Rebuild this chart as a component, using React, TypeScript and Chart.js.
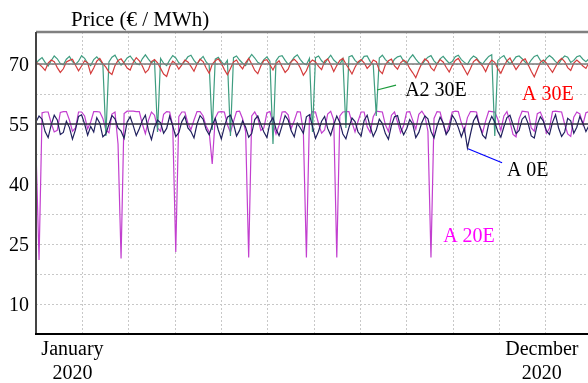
import React, { useEffect, useRef } from 'react';
import { Chart, registerables } from 'chart.js';

Chart.register(...registerables);

// ---------- data ----------
const DAY_STEP = 2; // one point every two days

const A30E = [
  70.4, 70.0, 69.3, 68.4, 70.2, 71.0, 70.6, 69.1, 67.9, 68.8, 70.5, 70.9, 71.2, 69.7, 68.3, 69.5, 70.8, 70.3, 67.6, 69.0,
  70.7, 71.4, 70.1, 69.2, 68.0, 67.4, 69.6, 70.9, 71.3, 70.2, 69.0, 68.5, 70.4, 71.6, 70.8, 69.5, 67.8, 68.6, 70.6, 71.1,
  70.3, 68.9, 67.5, 66.9, 69.3, 70.7, 70.1, 68.7, 69.8, 71.0, 70.5, 69.4, 68.2, 70.0, 71.2, 70.6, 69.0, 67.7, 69.9, 70.8,
  71.3, 70.2, 68.6, 67.3, 68.9, 70.5, 71.0, 69.7, 68.8, 70.3, 71.4, 70.0, 68.4, 67.6, 69.5, 70.9, 71.1, 69.8, 68.5, 70.1,
  70.8, 69.3, 67.9, 68.7, 70.6, 71.2, 70.4, 69.0, 67.2, 68.3, 70.2, 71.0, 70.5, 69.4, 68.6, 70.7, 71.3, 69.9, 68.1, 69.6,
  70.9, 71.4, 70.0, 68.8, 67.5, 69.2, 70.5, 71.1, 70.3, 68.9, 69.7, 71.0, 70.6, 68.4, 67.6, 69.8, 70.8, 71.2, 69.5, 68.7,
  70.3, 71.0, 70.4, 68.9, 67.8, 66.6, 68.5, 70.2, 71.3, 70.7, 69.1, 68.3, 70.0, 71.1, 70.5, 69.2, 68.0, 69.6, 70.9, 71.4,
  70.1, 68.7, 67.3, 68.9, 70.6, 71.2, 70.3, 69.5, 68.1, 69.9, 71.0, 70.4, 68.8, 67.7, 69.4, 70.8, 71.5, 70.0, 68.6, 69.7,
  70.9, 71.3, 69.8, 68.2, 66.8, 68.6, 70.4, 71.0, 70.2, 69.0, 67.9, 69.3, 70.7, 71.4, 70.6, 69.1, 68.4, 70.2, 71.0, 70.3,
  69.5, 68.9, 70.4, 70.8,
];

const A2_30E = [
  70.2, 71.0, 71.6, 70.4, 69.5, 70.8, 72.0, 71.3, 70.1, 69.8, 71.2, 71.9, 70.6, 69.9, 70.7, 72.1, 71.4, 70.2, 69.6, 71.1,
  71.8, 70.9, 70.0, 52.0, 70.5, 71.7, 72.2, 70.8, 69.7, 70.4, 71.5, 72.0, 71.0, 70.1, 69.8, 71.3, 72.3, 71.2, 70.3, 70.9,
  53.0, 71.4, 70.2, 69.6, 71.0, 72.1, 71.5, 70.3, 69.9, 70.7, 71.8, 72.2, 70.9, 70.0, 71.1, 71.9, 70.5, 69.7, 53.5, 71.2,
  71.7, 70.6, 69.8, 70.9, 52.0, 71.6, 72.0, 71.0, 70.2, 69.6, 71.3, 72.4, 71.5, 70.4, 70.0, 71.1, 71.8, 70.7, 50.0, 70.8,
  71.9, 72.1, 70.9, 69.9, 70.6, 71.7, 72.3, 71.1, 70.2, 69.8, 71.4, 53.0, 71.6, 72.0, 70.8, 70.1, 71.2, 72.2, 71.0, 70.3,
  69.9, 71.3, 54.0, 71.8, 72.1, 70.9, 70.2, 70.8, 71.9, 72.0, 70.6, 69.8, 57.0, 71.5, 72.2, 71.1, 70.4, 69.9, 71.2, 71.8,
  72.0, 70.7, 70.1, 71.4, 72.3, 71.2, 70.3, 69.8, 70.9, 71.7, 72.1, 70.8, 70.0, 71.3, 71.9, 71.0, 70.2, 70.6, 71.8, 72.2,
  71.1, 70.4, 69.9, 71.2, 72.0, 71.5, 70.5, 70.0, 71.0, 71.9, 72.3, 52.0, 70.9, 71.6, 72.1, 70.8, 70.1, 70.7, 71.8, 72.0,
  71.3, 70.5, 69.8, 71.0, 71.9, 72.2, 70.9, 70.3, 71.4, 72.1, 71.5, 70.6, 70.0, 71.2, 72.0, 71.7, 70.4, 70.9, 71.8, 72.1,
  71.2, 70.6, 71.3, 71.9,
];

const A0E = [
  55.5, 57.0, 56.2, 53.1, 51.6, 54.8, 57.2, 56.0, 52.4, 52.9, 55.7, 54.1, 51.2, 53.6, 56.9, 57.3, 55.0, 52.2, 54.4, 53.0,
  56.6, 55.2, 51.8, 52.5, 54.9, 57.1, 56.3, 54.0, 53.2, 51.4, 55.5, 56.8, 54.6, 52.1, 53.8, 55.9, 57.2, 53.4, 51.1, 54.2,
  56.0, 55.3, 52.7, 53.9, 57.0, 54.5, 51.9, 52.8, 55.6, 56.9, 54.0, 53.1, 51.5, 55.0, 57.1, 56.2, 53.6, 52.3, 54.7, 56.4,
  53.5, 51.3, 54.3, 56.7, 57.2, 55.1, 52.0, 53.4, 55.8, 54.2, 51.7, 52.6, 56.1, 57.0, 54.9, 53.0, 51.6, 55.3, 56.6, 53.7,
  52.1, 54.6, 57.1, 56.0, 53.3, 51.8, 55.2, 54.0, 52.7, 56.8, 57.3, 54.4, 51.4, 53.2, 55.7, 56.9, 53.9, 52.2, 54.8, 57.0,
  55.4, 52.5, 51.3, 54.1, 56.5, 55.6, 53.0, 52.0, 55.9, 57.2, 54.3, 51.9, 53.5, 56.2, 55.1, 52.6, 51.2, 54.7, 56.8, 57.1,
  54.2, 52.3, 53.8, 56.1, 55.0, 51.6, 52.9, 55.4, 57.0, 56.3, 53.2, 51.5, 54.5, 56.7, 55.3, 52.4, 53.6, 57.2, 56.0, 54.1,
  51.8, 53.9, 49.0, 52.5, 55.8, 57.1, 54.6, 52.2, 51.4, 55.0, 56.9, 55.5, 53.1, 51.7, 54.3, 56.6, 57.2, 54.8, 52.6, 53.4,
  56.2, 57.0, 55.1, 52.0, 51.5, 54.9, 56.8, 55.7, 53.3, 52.4, 55.4, 57.3, 54.0, 51.9, 53.0, 56.4, 55.8, 52.7, 54.2, 56.9,
  55.2, 53.1, 54.6, 56.3,
];

const A20E = [
  48.5, 21.0, 57.8, 58.0, 58.0, 55.2, 53.0, 53.4, 57.9, 58.1, 58.1, 56.0, 53.2, 54.0, 58.0, 58.0, 57.0, 53.8, 55.5, 58.1,
  58.1, 58.0, 56.4, 53.5, 52.8, 57.5, 58.0, 50.0, 21.4, 57.6, 58.2, 58.2, 58.2, 58.1, 58.1, 55.0, 52.6, 55.9, 58.0, 57.2,
  54.0, 53.2, 57.4, 58.1, 58.0, 54.6, 23.0, 56.8, 58.0, 58.0, 55.2, 53.6, 56.0, 58.1, 58.1, 57.0, 54.4, 53.0, 45.0, 56.5,
  58.0, 58.1, 58.0, 54.8, 52.9, 55.6, 58.1, 58.2, 56.3, 53.1, 21.6, 57.0, 58.0, 56.5, 53.4, 54.0, 57.8, 58.1, 55.0, 52.5,
  54.7, 58.0, 58.1, 57.3, 53.9, 55.8, 58.1, 58.0, 53.0, 21.6, 56.8, 58.1, 58.0, 55.1, 52.7, 53.5, 57.5, 58.2, 56.0, 21.6,
  57.0, 58.0, 58.1, 58.1, 55.4, 53.0, 55.7, 58.0, 58.0, 54.3, 52.9, 56.8, 58.2, 58.1, 58.0, 54.8, 53.1, 57.2, 58.0, 55.5,
  52.8, 54.6, 58.0, 58.1, 55.9, 53.7, 57.4, 58.2, 57.0, 53.2, 21.6, 56.4, 58.1, 58.0, 55.0, 52.6, 54.9, 58.0, 58.2, 58.1,
  55.3, 53.1, 56.6, 58.1, 58.1, 58.0, 54.5, 52.9, 55.8, 58.2, 58.1, 58.0, 56.2, 53.4, 57.0, 58.1, 55.6, 52.4, 51.8, 56.3,
  58.2, 58.1, 58.0, 54.0, 53.2, 57.6, 58.0, 56.1, 52.7, 53.9, 58.1, 58.2, 58.1, 58.0, 55.0, 52.5, 51.9, 56.7, 58.0, 57.5,
  54.9, 57.8, 58.1, 55.2,
];

const REF_LEVELS = [70, 55];

// axes
const X_MAX = 366;
const MONTH_GRID_DAYS = [30.5, 61, 91.5, 122, 152.5, 183, 213.5, 244, 274.5, 305, 335.5];
const X_LABEL_DAYS = [24, 333];
const X_LABELS = [['January', '2020'], ['Decmber', '2020']];
const Y_MIN = 2.5;
const Y_MAX = 78;
const Y_GRID = [10, 17.5, 25, 32.5, 40, 47.5, 55, 62.5, 70];
const Y_LABELED = [10, 25, 40, 55, 70];
const TITLE = 'Price (€ / MWh)';

// annotations (data coordinates)
const ANNOT_TEXT = ['A2 30E', 'A 30E', 'A 0E', 'A 20E'];
const ANNOT_DAY = [243, 320, 310, 268];
const ANNOT_VAL = [63.2, 62.2, 43.3, 26.9];
const ANNOT_COLOR = ['#000000', '#ff0000', '#000000', '#ff00ff'];
const LEADER_FROM_DAY = [224.5, 284.4];
const LEADER_FROM_VAL = [63.5, 48.8];
const LEADER_TO_DAY = [237, 306.8];
const LEADER_TO_VAL = [64.7, 45.3];
const LEADER_COLOR = ['#1a9a3a', '#0000ff'];

const FONT = '"Liberation Serif", "Times New Roman", Times, serif';

const toPoints = (arr: number[]) => arr.map((y, i) => ({ x: i * DAY_STEP, y }));

const overlay = {
  id: 'overlay',
  afterDatasetsDraw(chart: any) {
    const { ctx, chartArea: ca, scales } = chart;
    const xs = scales.x;
    const ys = scales.y;
    ctx.save();
    // frame
    ctx.lineWidth = 2.5;
    ctx.strokeStyle = '#808080';
    ctx.beginPath();
    ctx.moveTo(ca.left, ca.top);
    ctx.lineTo(ca.right, ca.top);
    ctx.stroke();
    ctx.lineWidth = 2;
    ctx.strokeStyle = '#444444';
    ctx.beginPath();
    ctx.moveTo(ca.left, ca.top);
    ctx.lineTo(ca.left, ca.bottom);
    ctx.stroke();
    ctx.strokeStyle = '#000000';
    ctx.beginPath();
    ctx.moveTo(ca.left - 1, ca.bottom);
    ctx.lineTo(ca.right, ca.bottom);
    ctx.stroke();

    // leader lines
    ctx.lineWidth = 1.2;
    for (let i = 0; i < LEADER_COLOR.length; i++) {
      ctx.strokeStyle = LEADER_COLOR[i];
      ctx.beginPath();
      ctx.moveTo(xs.getPixelForValue(LEADER_FROM_DAY[i]), ys.getPixelForValue(LEADER_FROM_VAL[i]));
      ctx.lineTo(xs.getPixelForValue(LEADER_TO_DAY[i]), ys.getPixelForValue(LEADER_TO_VAL[i]));
      ctx.stroke();
    }

    // annotation texts
    ctx.font = `20px ${FONT}`;
    ctx.textBaseline = 'middle';
    ctx.textAlign = 'left';
    for (let i = 0; i < ANNOT_TEXT.length; i++) {
      ctx.fillStyle = ANNOT_COLOR[i];
      ctx.fillText(ANNOT_TEXT[i], xs.getPixelForValue(ANNOT_DAY[i]), ys.getPixelForValue(ANNOT_VAL[i]));
    }

    // axis title
    ctx.fillStyle = '#000000';
    ctx.font = `21px ${FONT}`;
    ctx.fillText(TITLE, ca.left + 35, ca.top - 12);
    ctx.restore();
  },
};

export default function App() {
  const ref = useRef<HTMLCanvasElement | null>(null);

  useEffect(() => {
    if (!ref.current) return;
    const line = (label: string, data: number[], color: string, order: number, width = 1.2) => ({
      label,
      data: toPoints(data),
      borderColor: color,
      backgroundColor: color,
      borderWidth: width,
      pointRadius: 0,
      tension: 0,
      fill: false,
      order,
    });
    const refLine = (v: number, color: string, order: number) => ({
      label: 'ref' + v,
      data: [
        { x: 0, y: v },
        { x: X_MAX, y: v },
      ],
      borderColor: color,
      borderWidth: 1.3,
      pointRadius: 0,
      fill: false,
      order,
    });

    const chart = new Chart(ref.current, {
      type: 'line',
      data: {
        datasets: [
          refLine(REF_LEVELS[0], '#7a7a7a', 0),
          refLine(REF_LEVELS[1], '#2e2e3e', 0),
          line('A 30E', A30E, '#d43c3c', 1),
          line('A 0E', A0E, '#20205e', 2),
          line('A2 30E', A2_30E, '#3f9d80', 3),
          line('A 20E', A20E, '#c23fcf', 4),
        ] as any,
      },
      options: {
        animation: false,
        responsive: false,
        devicePixelRatio: 1,
        layout: { padding: { top: 32, right: 8, left: 0, bottom: 0 } },
        plugins: { legend: { display: false }, tooltip: { enabled: false }, title: { display: false } },
        scales: {
          x: {
            type: 'linear',
            position: 'bottom',
            min: 0,
            max: X_MAX,
            afterBuildTicks: (s: any) => {
              s.ticks = MONTH_GRID_DAYS.map((v) => ({ value: v }));
            },
            afterFit: (s: any) => {
              s.height = 0;
            },
            ticks: { display: false },
            grid: { color: '#c8c8c8', lineWidth: 1, drawTicks: false },
            border: { display: false, dash: [2, 2] },
          },
          xl: {
            type: 'linear',
            position: 'bottom',
            min: 0,
            max: X_MAX,
            afterBuildTicks: (s: any) => {
              s.ticks = X_LABEL_DAYS.map((v) => ({ value: v }));
            },
            afterFit: (s: any) => {
              s.height = 49;
            },
            ticks: {
              autoSkip: false,
              maxRotation: 0,
              padding: 4,
              color: '#000',
              font: { family: FONT, size: 20, lineHeight: 1.2 },
              callback: (_v: any, i: number) => X_LABELS[i],
            },
            grid: { display: false, drawTicks: false },
            border: { display: false },
          },
          y: {
            type: 'linear',
            min: Y_MIN,
            max: Y_MAX,
            afterBuildTicks: (s: any) => {
              s.ticks = Y_GRID.map((v) => ({ value: v }));
            },
            afterFit: (s: any) => {
              s.width = 36;
            },
            ticks: {
              padding: 7,
              labelOffset: 2,
              color: '#000',
              font: { family: FONT, size: 20 },
              callback: (v: any) => (Y_LABELED.includes(v) ? String(v) : ''),
            },
            grid: { color: '#c8c8c8', lineWidth: 1, drawTicks: false },
            border: { display: false, dash: [2, 2] },
          },
        },
      } as any,
      plugins: [overlay],
    });
    return () => chart.destroy();
  }, []);

  return (
    <div
      style={{
        position: 'fixed',
        left: 0,
        top: 0,
        width: 588,
        height: 383,
        overflow: 'hidden',
        background: '#fff',
      }}
    >
      <canvas ref={ref} width={600} height={383} style={{ display: 'block', width: 600, height: 383 }} />
    </div>
  );
}
